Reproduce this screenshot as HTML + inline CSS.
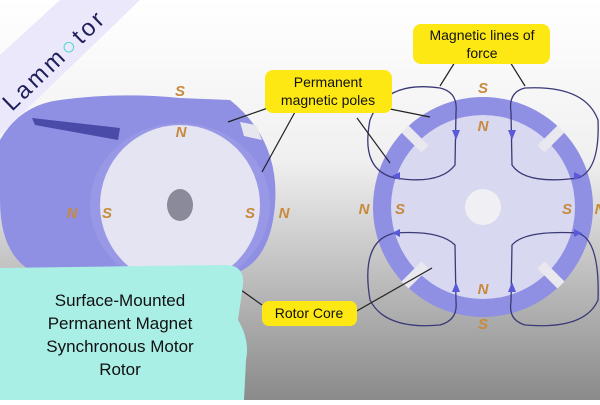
<!DOCTYPE html>
<html><head><style>
body{margin:0;width:600px;height:400px;overflow:hidden;font-family:"Liberation Sans",sans-serif}
</style></head><body>
<svg width="600" height="400" viewBox="0 0 600 400" xmlns="http://www.w3.org/2000/svg">
<defs>
<linearGradient id="bg" x1="0" y1="0" x2="0" y2="1">
<stop offset="0" stop-color="#ffffff"/><stop offset="0.4" stop-color="#f0f0f0"/><stop offset="0.75" stop-color="#b4b4b4"/><stop offset="1" stop-color="#8a8a8a"/></linearGradient>
</defs>
<rect width="600" height="400" fill="url(#bg)"/>
<!-- left rotor body -->
<path d="M60,100 Q120,92 180,98 L230,100 Q280,140 275,205 Q270,265 230,275 L40,275 Q0,260 0,200 L0,140 Q20,105 60,100Z" fill="#8f8fe4"/>
<path d="M32,118 L120,128 L118,140 L35,125Z" fill="#4a4aa8"/>
<ellipse cx="180" cy="205" rx="90" ry="82" fill="#9898e6"/>
<ellipse cx="180" cy="205" rx="80" ry="80" fill="#e4e4f2"/>
<path d="M240,122 L244,136 L262,140 L256,125Z" fill="#e6e6ef"/>
<ellipse cx="180" cy="205" rx="13" ry="16" fill="#8a8a9a"/>
<!-- right rotor -->
<circle cx="483" cy="207" r="110" fill="#8f8fe4"/>
<circle cx="483" cy="207" r="92" fill="#d8d8f0"/>
<g stroke="#e8e8ee" stroke-width="10">
<line x1="405" y1="129" x2="425" y2="149"/><line x1="561" y1="129" x2="541" y2="149"/>
<line x1="405" y1="285" x2="425" y2="265"/><line x1="561" y1="285" x2="541" y2="265"/>
</g>
<circle cx="483" cy="207" r="18" fill="#f0f0f4"/>
<!-- flux lines -->
<g fill="none" stroke="#3a3a78" stroke-width="1.3">
<path d="M456,112 L455,165 Q440,185 395,178 Q360,170 370,120 Q385,80 440,88 Q458,92 456,112"/>
<path d="M511,112 L512,165 Q525,185 578,178 Q600,170 598,120 Q585,85 525,88 Q508,92 511,112"/>
<path d="M456,302 L455,245 Q440,230 395,233 Q360,240 370,300 Q385,330 440,325 Q458,320 456,302"/>
<path d="M511,302 L512,245 Q525,230 578,233 Q600,240 598,300 Q585,330 525,325 Q508,320 511,302"/>
</g>
<g fill="#5a5ad8"><path d="M452,130 L460,130 L456,140Z"/><path d="M508,130 L516,130 L512,140Z"/>
<path d="M392,176 L400,172 L400,180Z"/><path d="M582,176 L574,172 L574,180Z"/>
<path d="M392,233 L400,229 L400,237Z"/><path d="M582,233 L574,229 L574,237Z"/>
<path d="M452,292 L460,292 L456,282Z"/><path d="M508,292 L516,292 L512,282Z"/></g>
<!-- pole letters -->
<g font-weight="bold" font-style="italic" font-size="15" fill="#c88a3c" text-anchor="middle">
<text x="180" y="96">S</text><text x="181" y="137">N</text><text x="72" y="218">N</text><text x="107" y="218">S</text>
<text x="250" y="218">S</text><text x="284" y="218">N</text>
<text x="483" y="93">S</text><text x="483" y="131">N</text><text x="364" y="214">N</text><text x="400" y="214">S</text>
<text x="567" y="214">S</text><text x="600" y="214">N</text><text x="483" y="294">N</text><text x="483" y="329">S</text>
</g>
<!-- connectors -->
<g stroke="#222" stroke-width="1.2" fill="none">
<line x1="228" y1="122" x2="268" y2="108"/><line x1="262" y1="172" x2="295" y2="112"/>
<line x1="385" y1="108" x2="430" y2="117"/><line x1="357" y1="118" x2="390" y2="163"/>
<line x1="440" y1="86" x2="460" y2="54"/><line x1="525" y1="86" x2="505" y2="54"/>
<line x1="210" y1="268" x2="262" y2="305"/><line x1="355" y1="312" x2="432" y2="268"/>
</g>
<!-- labels -->
<g font-size="14" fill="#111" text-anchor="middle">
<rect x="265" y="70" width="127" height="43" rx="8" fill="#fde813"/>
<text x="328" y="87">Permanent</text><text x="328" y="105">magnetic poles</text>
<rect x="413" y="24" width="137" height="40" rx="8" fill="#fde813"/>
<text x="482" y="40">Magnetic lines of</text><text x="482" y="58">force</text>
<rect x="262" y="301" width="95" height="25" rx="7" fill="#fde813"/>
<text x="309" y="318">Rotor Core</text>
</g>
<!-- banner -->
<path d="M0,55 L60,0 L140,0 L0,135Z" fill="#ece8fb"/>
<text x="0" y="0" font-size="24" fill="#1f1f5a" transform="translate(12,112) rotate(-44)" letter-spacing="3">Lamm<tspan fill="#4fd8d0">○</tspan>tor</text>
<!-- cyan box -->
<path d="M0,268 L225,265 Q245,265 243,285 L238,320 Q250,340 246,360 L244,400 L0,400Z" fill="#a9efe6"/>
<g font-size="17" fill="#111" text-anchor="middle">
<text x="120" y="306">Surface-Mounted</text><text x="120" y="329">Permanent Magnet</text>
<text x="120" y="352">Synchronous Motor</text><text x="120" y="375">Rotor</text></g>
</svg>
</body></html>
